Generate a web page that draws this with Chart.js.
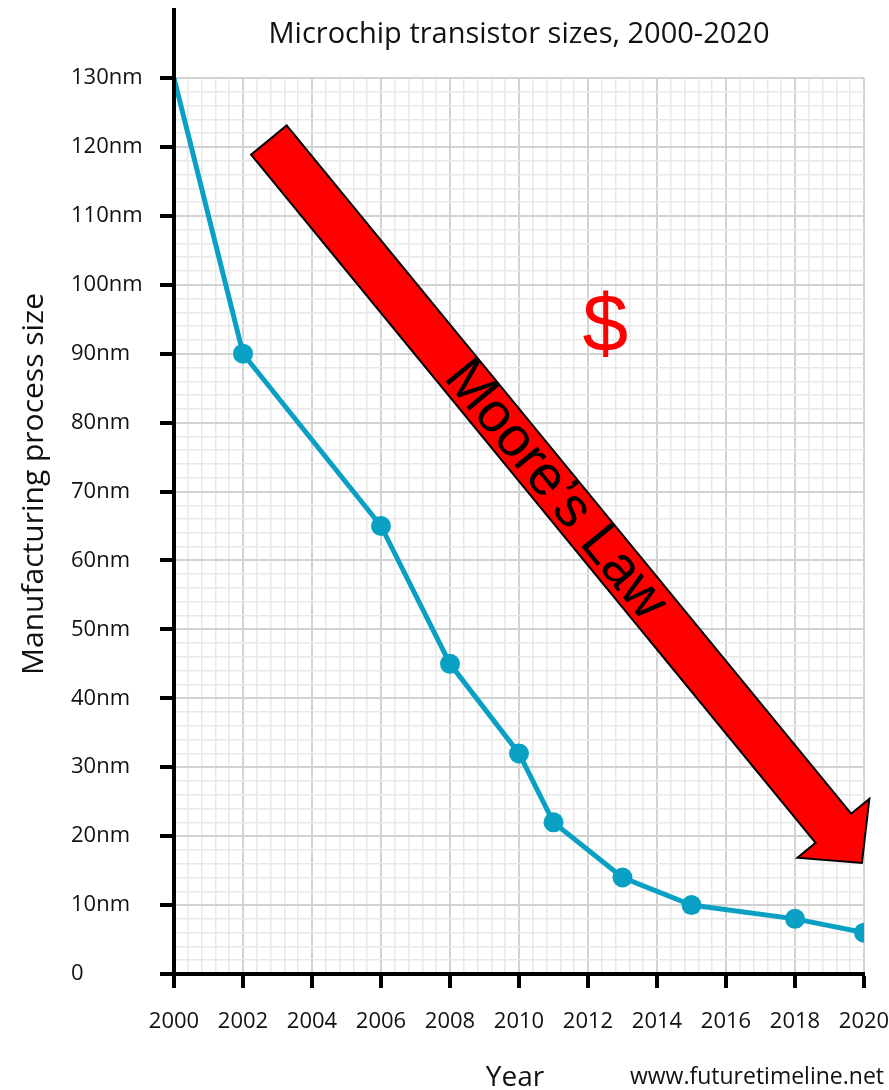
<!DOCTYPE html>
<html lang="en">
<head>
<meta charset="UTF-8">
<title>Microchip transistor sizes, 2000-2020</title>
<script src="https://cdn.jsdelivr.net/npm/chart.js"></script>
<style>
  body { margin: 0; background: #fff; }
</style>
</head>
<body>
<canvas id="chart" width="889" height="1090"></canvas>
<script>
// data
const years = [2000, 2002, 2006, 2008, 2010, 2011, 2013, 2015, 2018, 2020];
const sizesNm = [130, 90, 65, 45, 32, 22, 14, 10, 8, 6];

// labelled ticks
const yearTicks = [2000, 2002, 2004, 2006, 2008, 2010, 2012, 2014, 2016, 2018, 2020];
const sizeTicks = [0, 10, 20, 30, 40, 50, 60, 70, 80, 90, 100, 110, 120, 130];
const sizeTickLabels = ['0', '10nm', '20nm', '30nm', '40nm', '50nm', '60nm', '70nm', '80nm', '90nm', '100nm', '110nm', '120nm', '130nm'];

// annotation anchors, in data units
const arrowFrom = [2002.75, 121];
const arrowTo = [2019.94, 16.1];
const dollarAt = [2012.5, 90.4];

const lineColor = '#0aa0c4';
const font = '"Open Sans", sans-serif';

const findIndex = (list, v) => list.findIndex(t => Math.abs(t - v) < 1e-6);
const isMajor = (list, v) => findIndex(list, v) !== -1;

const decorations = {
    id: 'decorations',
    afterDraw(chart) {
        const { ctx, chartArea, scales: { x, y } } = chart;
        ctx.save();

        // y axis runs up past the plot
        ctx.strokeStyle = '#000';
        ctx.lineWidth = 4;
        ctx.beginPath();
        ctx.moveTo(chartArea.left, chartArea.top);
        ctx.lineTo(chartArea.left, 8);
        ctx.stroke();

        // Moore's Law arrow
        const x0 = x.getPixelForValue(arrowFrom[0]), y0 = y.getPixelForValue(arrowFrom[1]);
        const x1 = x.getPixelForValue(arrowTo[0]), y1 = y.getPixelForValue(arrowTo[1]);
        const len = Math.hypot(x1 - x0, y1 - y0);
        const w = 23, hw = 46.5, hl = 45;
        ctx.save();
        ctx.translate(x0, y0);
        ctx.rotate(Math.atan2(y1 - y0, x1 - x0));
        ctx.beginPath();
        ctx.moveTo(0, -w);
        ctx.lineTo(len - hl, -w);
        ctx.lineTo(len - hl, -hw);
        ctx.lineTo(len, 0);
        ctx.lineTo(len - hl, hw);
        ctx.lineTo(len - hl, w);
        ctx.lineTo(0, w);
        ctx.closePath();
        ctx.fillStyle = '#ff0000';
        ctx.fill();
        ctx.lineWidth = 2;
        ctx.lineJoin = 'miter';
        ctx.strokeStyle = '#000';
        ctx.stroke();
        ctx.fillStyle = '#000';
        ctx.font = '56px "Liberation Sans", Arial, sans-serif';
        ctx.textAlign = 'center';
        ctx.textBaseline = 'middle';
        ctx.fillText('Moore\u2019s Law', len * 0.484, 1);
        ctx.restore();

        // dollar sign
        ctx.fillStyle = '#ff0000';
        ctx.font = '82px "Liberation Sans", Arial, sans-serif';
        ctx.textAlign = 'center';
        ctx.textBaseline = 'alphabetic';
        ctx.fillText('$', x.getPixelForValue(dollarAt[0]), y.getPixelForValue(dollarAt[1]));

        // titles
        ctx.fillStyle = '#111';
        ctx.textBaseline = 'middle';
        ctx.font = '29px ' + font;
        ctx.fillText('Microchip transistor sizes, 2000-2020', (chartArea.left + chartArea.right) / 2, 35);

        ctx.font = '28px ' + font;
        ctx.textBaseline = 'alphabetic';
        ctx.fillText('Year', 515, 1086);

        ctx.font = '23px ' + font;
        ctx.textAlign = 'right';
        ctx.fillText('www.futuretimeline.net', 884, 1084);

        ctx.save();
        ctx.translate(34, 484);
        ctx.rotate(-Math.PI / 2);
        ctx.textAlign = 'center';
        ctx.textBaseline = 'middle';
        ctx.font = '30px ' + font;
        ctx.fillText('Manufacturing process size', 0, 0);
        ctx.restore();

        ctx.restore();
    }
};

new Chart(document.getElementById('chart'), {
    type: 'line',
    data: {
        datasets: [{
            data: years.map((yr, i) => ({ x: yr, y: sizesNm[i] })),
            borderColor: lineColor,
            backgroundColor: lineColor,
            borderWidth: 5,
            pointRadius: years.map((yr, i) => i === 0 ? 0 : 10),
            pointBorderWidth: 0,
            tension: 0
        }]
    },
    options: {
        responsive: false,
        animation: false,
        layout: { padding: { left: 71, right: 25, top: 78, bottom: 0 } },
        plugins: {
            legend: { display: false },
            tooltip: { enabled: false },
            title: { display: false }
        },
        scales: {
            x: {
                type: 'linear',
                min: 2000,
                max: 2020,
                afterFit: s => {
                    s.height = 116;
                    // let the layout padding decide the plot edges
                    s.paddingLeft = 0;
                    s.paddingRight = 0;
                },
                border: { color: '#000', width: 4, z: 1 },
                grid: {
                    color: c => isMajor(yearTicks, c.tick.value) ? '#d2d2d2' : '#e8e8e8',
                    lineWidth: c => isMajor(yearTicks, c.tick.value) ? 2 : 1.5,
                    tickColor: c => isMajor(yearTicks, c.tick.value) ? '#000' : 'rgba(0,0,0,0)',
                    tickWidth: 4,
                    tickLength: 14
                },
                ticks: {
                    stepSize: 0.4,
                    autoSkip: false,
                    maxTicksLimit: 200,
                    maxRotation: 0,
                    padding: 21,
                    color: '#111',
                    font: { family: font, size: 22 },
                    callback: v => isMajor(yearTicks, v) ? String(yearTicks[findIndex(yearTicks, v)]) : ''
                }
            },
            y: {
                min: 0,
                max: 130,
                afterFit: s => { s.width = 103; },
                border: { color: '#000', width: 4, z: 1 },
                grid: {
                    color: c => isMajor(sizeTicks, c.tick.value) ? '#d2d2d2' : '#e8e8e8',
                    lineWidth: c => isMajor(sizeTicks, c.tick.value) ? 2 : 1.5,
                    tickColor: c => isMajor(sizeTicks, c.tick.value) ? '#000' : 'rgba(0,0,0,0)',
                    tickWidth: 4,
                    tickLength: 14
                },
                ticks: {
                    stepSize: 2,
                    autoSkip: false,
                    maxTicksLimit: 200,
                    crossAlign: 'far',
                    color: '#111',
                    font: { family: font, size: 22 },
                    callback: v => isMajor(sizeTicks, v) ? sizeTickLabels[findIndex(sizeTicks, v)] : ''
                }
            }
        }
    },
    plugins: [decorations]
});
</script>
</body>
</html>
